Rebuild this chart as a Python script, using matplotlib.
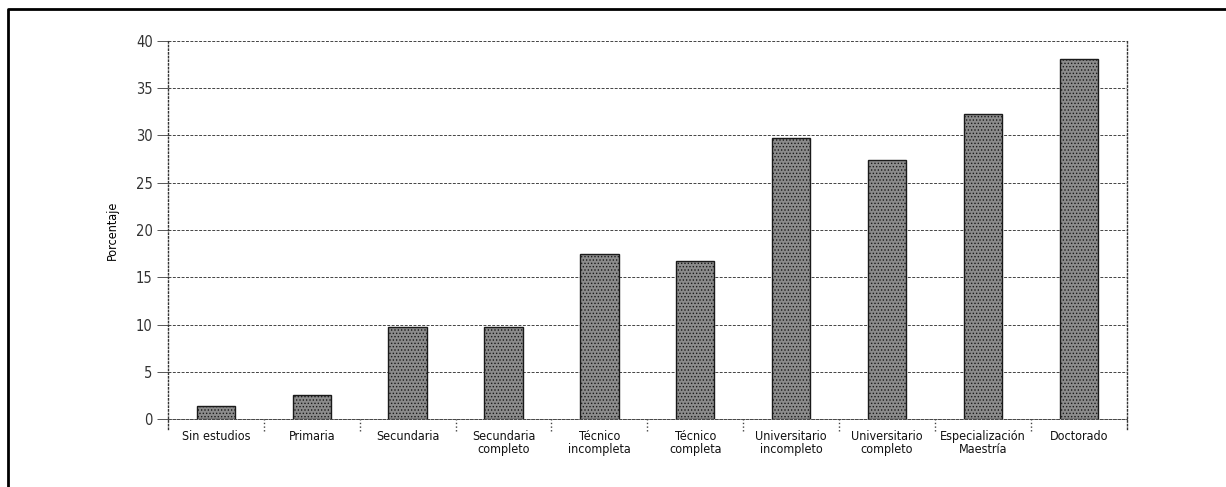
import numpy as np
import matplotlib
matplotlib.use('Agg')
import matplotlib.pyplot as plt
from matplotlib.lines import Line2D

# nivel educativo y porcentaje
categorias = ['Sin estudios', 'Primaria', 'Secundaria', 'Secundaria\ncompleto',
              'Técnico\nincompleta', 'Técnico\ncompleta', 'Universitario\nincompleto',
              'Universitario\ncompleto', 'Especialización\nMaestría', 'Doctorado']
porcentaje = [1.4, 2.6, 9.8, 9.8, 17.5, 16.7, 29.7, 27.4, 32.3, 38.1]
y_ticks = [0, 5, 10, 15, 20, 25, 30, 35, 40]

plt.rcParams['font.family'] = ['DejaVu Sans']
plt.rcParams['font.stretch'] = 'condensed'
plt.rcParams['hatch.linewidth'] = 0.6

fig = plt.figure(figsize=(12.26, 4.87), dpi=100)
ax = fig.add_axes([0.137, 0.139, 0.782, 0.7775])

x = np.arange(len(categorias))
ax.bar(x, porcentaje, width=0.4, color='#8c8c8c', edgecolor='#1a1a1a',
       linewidth=1.0, hatch='.....', zorder=3)

ax.set_xlim(-0.5, len(categorias) - 0.5)
ax.set_ylim(0, 40)
ax.set_yticks(y_ticks)
ax.set_yticklabels([str(v) for v in y_ticks], fontsize=10.5, color='#333333',
                   fontstretch='condensed')
ax.set_xticks(x)
ax.set_xticklabels(categorias, fontsize=9, color='#111111', linespacing=1.0,
                   fontstretch='condensed')
ax.tick_params(axis='x', length=0, pad=8)
ax.tick_params(axis='y', length=8, width=0.7, color='#555555', pad=3)

# separadores entre categorias
trans = ax.get_xaxis_transform()
ax.vlines(np.arange(0.5, len(categorias) - 1, 1), -0.03, 0, transform=trans,
          colors='#444444', linestyles=':', linewidth=1.0, clip_on=False)

ax.grid(axis='y', color='#444444', linestyle=(0, (3, 1.5)), linewidth=0.7, zorder=0)
ax.set_axisbelow(True)
for side in ['left', 'right']:
    ax.spines[side].set_linestyle(':')
    ax.spines[side].set_color('#333333')
    ax.spines[side].set_linewidth(1.0)
    ax.spines[side].set_bounds(-1, 40)
ax.spines['top'].set_visible(False)
ax.spines['bottom'].set_linestyle((0, (3, 1.5)))
ax.spines['bottom'].set_color('#444444')
ax.spines['bottom'].set_linewidth(0.7)

ax.set_ylabel('Porcentaje', fontsize=9, labelpad=12, fontstretch='condensed')

# marco exterior
fig.add_artist(Line2D([0.0065, 0.0065, 1.0], [0.0, 0.9815, 0.9815],
                      transform=fig.transFigure, color='black', linewidth=2))

fig.savefig('out.png', dpi=100)
